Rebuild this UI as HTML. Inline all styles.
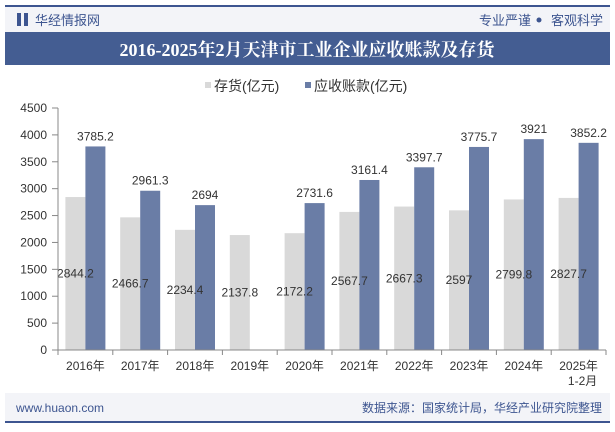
<!DOCTYPE html>
<html><head><meta charset="utf-8"><style>
body{margin:0;width:615px;height:427px;overflow:hidden;background:#fff;font-family:"Liberation Sans","Noto Sans CJK SC",sans-serif;}
</style></head><body>
<svg width="615" height="427" xmlns="http://www.w3.org/2000/svg">
<rect x="5" y="6" width="605" height="26" fill="#f3f4f8"/>
<rect x="5" y="5" width="605" height="2" fill="#3d5590"/>
<rect x="17" y="13" width="4" height="13" fill="#3d5590"/><rect x="24" y="13" width="4" height="13" fill="#3d5590"/>
<text x="35" y="25" font-size="13" fill="#3d5590">华经情报网</text>
<text x="531" y="25" font-size="13" fill="#3d5590" text-anchor="end">专业严谨</text>
<circle cx="539" cy="20" r="2.5" fill="#3d5590"/>
<text x="603" y="25" font-size="13" fill="#3d5590" text-anchor="end">客观科学</text>
<rect x="5" y="32" width="605" height="33" fill="#445d92"/>
<text x="307" y="56" font-size="18" font-weight="bold" fill="#fff" text-anchor="middle" font-family="Liberation Serif,Noto Serif CJK SC,serif">2016-2025年2月天津市工业企业应收账款及存货</text>
<g>
<rect x="205" y="82" width="6" height="6" fill="#d9d9d9"/>
<text x="214" y="91" font-size="14" fill="#333">存货(亿元)</text>
<rect x="305" y="82" width="6" height="6" fill="#6a7da6"/>
<text x="314" y="91" font-size="14" fill="#333">应收账款(亿元)</text>
</g>
<g id="plot"></g>
<rect x="5" y="393" width="605" height="29" fill="#f3f4f8"/>
<rect x="5" y="421" width="605" height="2" fill="#3d5590"/>
<text x="16" y="412" font-size="12" fill="#3d5590">www.huaon.com</text>
<text x="602" y="412" font-size="12" fill="#3d5590" text-anchor="end">数据来源：国家统计局，华经产业研究院整理</text>
</svg>
<script>
const categories=["2016年","2017年","2018年","2019年","2020年","2021年","2022年","2023年","2024年","2025年"];
const inventory=[2844.2,2466.7,2234.4,2137.8,2172.2,2567.7,2667.3,2597,2799.8,2827.7];
const receivables=[3785.2,2961.3,2694,null,2731.6,3161.4,3397.7,3775.7,3921,3852.2];
const yTicks=[0,500,1000,1500,2000,2500,3000,3500,4000,4500];
const NS="http://www.w3.org/2000/svg";
const g=document.getElementById('plot');
const x0=58,x1=606,yb=350,yt=108,ymax=4500;
const bw=(x1-x0)/categories.length;
const y=v=>yb-(v/ymax)*(yb-yt);
const xc=i=>x0+bw*(i+0.5);
function mk(t,a,txt){const e=document.createElementNS(NS,t);for(const k in a)e.setAttribute(k,a[k]);if(txt!=null)e.textContent=txt;g.appendChild(e);return e;}
yTicks.forEach(v=>{
 const t=mk('text',{x:47,y:y(v)+4,'font-size':12,fill:'#333','text-anchor':'end'},String(v));
 
 
 const l=mk('line',{x1:52,x2:58,y1:y(v),y2:y(v),stroke:'#888'});
 
 
});
categories.forEach((c,i)=>{
 const cx=xc(i);
 const r1=mk('rect',{x:cx-20,y:y(inventory[i]),width:20,height:yb-y(inventory[i]),fill:'#d9d9d9'});
 
 
 if(receivables[i]!=null){
  const r2=mk('rect',{x:cx,y:y(receivables[i]),width:20,height:yb-y(receivables[i]),fill:'#6a7da6'});
  
  
 }
});
categories.forEach((c,i)=>{
 const cx=xc(i);
 const t1=mk('text',{x:cx-10,y:(y(inventory[i])+yb)/2+4,'font-size':12,fill:'#333','text-anchor':'middle'},String(inventory[i]));
 
 
 if(receivables[i]!=null){
  const t2=mk('text',{x:cx+10,y:y(receivables[i])-6,'font-size':12,fill:'#333','text-anchor':'middle'},String(receivables[i]));
  
  
 }
 const tk=mk('line',{x1:x0+bw*i,x2:x0+bw*i,y1:yb,y2:yb+5,stroke:'#888'});
 
 
 const xl=mk('text',{x:cx,y:370,'font-size':12,fill:'#333','text-anchor':'middle'},c);
 
 
});
const sub=mk('text',{x:xc(9)+4,y:385,'font-size':12,fill:'#333','text-anchor':'middle'},'1-2月');


const tkEnd=mk('line',{x1:x1,x2:x1,y1:yb,y2:yb+5,stroke:'#888'});


const ax=mk('line',{x1:x0,x2:x1,y1:yb,y2:yb,stroke:'#888'});


const ay=mk('line',{x1:x0,x2:x0,y1:yt,y2:yb,stroke:'#888'});


</script>
</body></html>
